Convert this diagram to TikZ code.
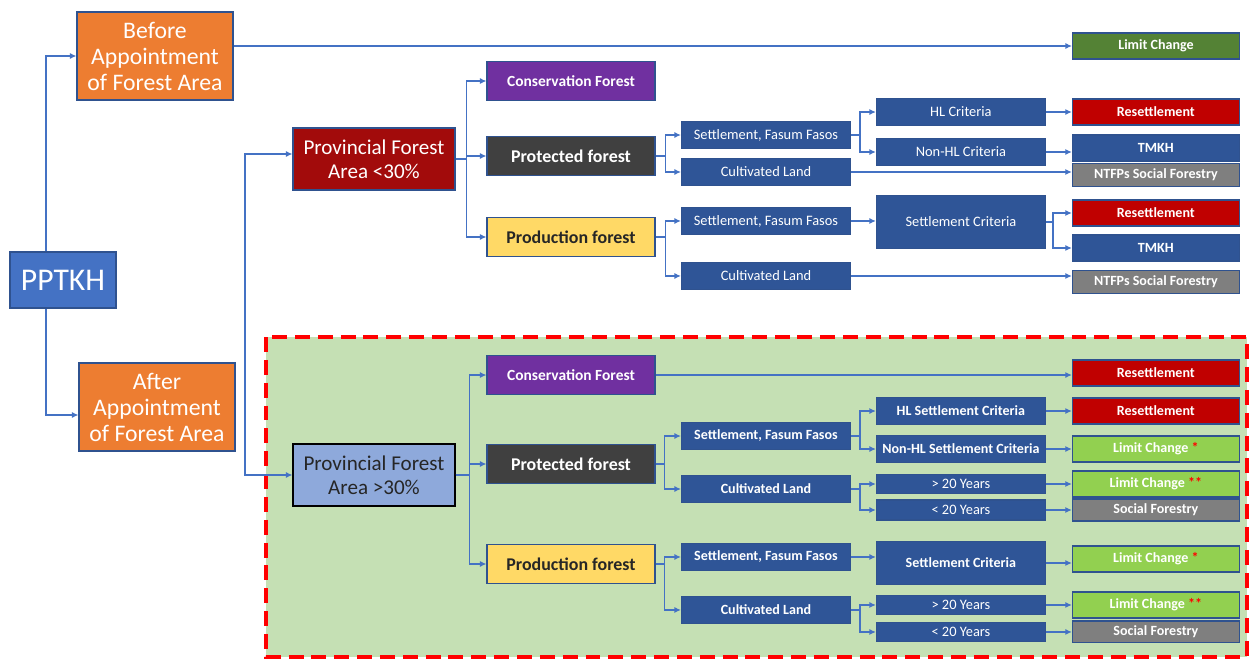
\documentclass[tikz,border=0pt]{standalone}
\usepackage{fontspec}
\setmainfont{Carlito}
\usepackage{tikz}
\usetikzlibrary{arrows.meta}
\usetikzlibrary{positioning}
\definecolor{cOrange}{HTML}{ED7D31}
\definecolor{cRoot}{HTML}{4472C4}
\definecolor{cEdge}{HTML}{2F528F}
\definecolor{cLine}{HTML}{4472C4}
\definecolor{cProvA}{HTML}{A20B0B}
\definecolor{cProvB}{HTML}{8EA9DB}
\definecolor{cPurple}{HTML}{7030A0}
\definecolor{cDark}{HTML}{404040}
\definecolor{cYellow}{HTML}{FFD966}
\definecolor{cNavy}{HTML}{2F5597}
\definecolor{cRed}{HTML}{C00000}
\definecolor{cGray}{HTML}{7F7F7F}
\definecolor{cGreen}{HTML}{548235}
\definecolor{cLime}{HTML}{92D050}
\definecolor{cBack}{HTML}{C5E0B4}
\definecolor{cText}{HTML}{262626}

\begin{document}
\begin{tikzpicture}[x = 0.02cm, y = -0.02cm, on grid, box/.style = {draw = cEdge, line width = 0.6pt, align = center, inner sep = 0pt, text = white}, stagebox/.style = {box, fill = cOrange, minimum width = 3.12cm, minimum height = 1.76cm, font = \fontsize{13.5}{14.8}\selectfont}, provbox/.style = {box, minimum width = 3.24cm, minimum height = 1.24cm, font = \fontsize{12}{13.6}\selectfont}, kindbox/.style = {box, minimum width = 3.36cm, minimum height = 0.78cm, font = \bfseries\fontsize{10.2}{12}\selectfont}, consbox/.style = {kindbox, fill = cPurple, font = \bfseries\fontsize{8.8}{10}\selectfont}, subbox/.style = {box, fill = cNavy, minimum width = 3.38cm, minimum height = 0.54cm, font = \fontsize{8.2}{9.5}\selectfont}, subbold/.style = {subbox, font = \bfseries\fontsize{8}{9.5}\selectfont}, leaf/.style = {box, minimum width = 3.34cm, minimum height = 0.52cm, font = \bfseries\fontsize{8}{9.5}\selectfont}, link/.style = {draw = cLine, line width = 0.7pt, -{Latex[length = 1.3mm, width = 1.2mm]}}]
	\useasboundingbox (0,0) rectangle (1249,660);
	\draw[fill = cBack, draw = red, line width = 1.8pt, dash pattern = on 8.5pt off 4.5pt] (266,337) rectangle (1247,657);
	\node[box, fill = cRoot, minimum width = 2.12cm, minimum height = 1.12cm, font = \fontsize{18}{20}\selectfont] (pptkh) at (63,280) {PPTKH};
	\node[stagebox] (before) at (155,56) {Before\\Appointment\\of Forest Area};
	\node[stagebox] (after) at (157,407) {After\\Appointment\\of Forest Area};
	\node[leaf, fill = cGreen] (limit0) at (1156,46) {Limit Change};
	\node[provbox, fill = cProvA] (provA) at (374,159) {Provincial Forest\\Area <30\%};
	\node[provbox, fill = cProvB, draw = black, text = cText] (provB) at (374,475) {Provincial Forest\\Area >30\%};
	\coordinate (fork) at (245,300);

	\node[kindbox, fill = cDark] (protA) at (571,156) {Protected forest};
	\node[consbox] (consA) [above = 1.5cm of protA] {Conservation Forest};
	\node[kindbox, fill = cYellow, text = cText] (prodA) [below = 1.62cm of protA] {Production forest};
	\node[subbox] (sffA) [right = 3.9cm of protA, yshift = 0.42cm] {Settlement, Fasum Fasos};
	\node[subbox] (culA) [right = 3.9cm of protA, yshift = -0.32cm] {Cultivated Land};
	\node[subbox] (hlA) [right = 3.9cm of sffA, yshift = 0.46cm] {HL Criteria};
	\node[subbox] (nhlA) [right = 3.9cm of sffA, yshift = -0.34cm] {Non-HL Criteria};
	\node[leaf, fill = cRed] (resA) [right = 3.9cm of hlA] {Resettlement};
	\node[leaf, fill = cNavy] (tmkhA) [right = 3.9cm of nhlA, yshift = 0.08cm] {TMKH};
	\node[leaf, fill = cGray, minimum height = 0.46cm] (ntfpA) [right = 7.8cm of culA, yshift = -0.06cm] {NTFPs Social Forestry};
	\node[subbox] (sffB) [right = 3.9cm of prodA, yshift = 0.32cm] {Settlement, Fasum Fasos};
	\node[subbox] (culB) [right = 3.9cm of prodA, yshift = -0.78cm] {Cultivated Land};
	\node[subbox, minimum height = 1.06cm] (scA) [right = 3.9cm of sffB, yshift = -0.02cm] {Settlement Criteria};
	\node[leaf, fill = cRed] (resB) [right = 3.9cm of scA, yshift = 0.18cm] {Resettlement};
	\node[leaf, fill = cNavy] (tmkhB) [right = 3.9cm of scA, yshift = -0.52cm] {TMKH};
	\node[leaf, fill = cGray, minimum height = 0.46cm] (ntfpB) [right = 7.8cm of culB, yshift = -0.12cm] {NTFPs Social Forestry};

	\node[kindbox, fill = cDark] (protB) at (571,464) {Protected forest};
	\node[consbox] (consB) [above = 1.78cm of protB] {Conservation Forest};
	\node[kindbox, fill = cYellow, text = cText] (prodB) [below = 2cm of protB] {Production forest};
	\node[leaf, fill = cRed] (resC) [right = 11.7cm of consB, yshift = 0.04cm] {Resettlement};
	\node[subbold] (sffC) [right = 3.9cm of protB, yshift = 0.56cm] {Settlement, Fasum Fasos};
	\node[subbold] (culC) [right = 3.9cm of protB, yshift = -0.5cm] {Cultivated Land};
	\node[subbold] (hlB) [right = 3.9cm of sffC, yshift = 0.5cm] {HL Settlement Criteria};
	\node[subbold] (nhlB) [right = 3.9cm of sffC, yshift = -0.26cm] {Non-HL Settlement Criteria};
	\node[leaf, fill = cRed] (resD) [right = 3.9cm of hlB] {Resettlement};
	\node[leaf, fill = cLime] (limA) [right = 3.9cm of nhlB] {Limit Change \textcolor{red}{*}};
	\node[subbox, minimum height = 0.38cm] (gtA) [right = 3.9cm of culC, yshift = 0.1cm] {> 20 Years};
	\node[subbox, minimum height = 0.4cm] (ltA) [right = 3.9cm of culC, yshift = -0.42cm] {< 20 Years};
	\node[leaf, fill = cLime] (limB) [right = 3.9cm of gtA] {Limit Change \textcolor{red}{**}};
	\node[leaf, fill = cGray, minimum height = 0.44cm] (sfA) [right = 3.9cm of ltA] {Social Forestry};
	\node[subbold] (sffD) [right = 3.9cm of prodB, yshift = 0.14cm] {Settlement, Fasum Fasos};
	\node[subbold] (culD) [right = 3.9cm of prodB, yshift = -0.92cm] {Cultivated Land};
	\node[subbold, minimum height = 0.86cm] (scB) [right = 3.9cm of sffD, yshift = -0.12cm] {Settlement Criteria};
	\node[leaf, fill = cLime] (limC) [right = 3.9cm of scB, yshift = 0.08cm] {Limit Change \textcolor{red}{*}};
	\node[subbox, minimum height = 0.38cm] (gtB) [right = 3.9cm of culD, yshift = 0.1cm] {> 20 Years};
	\node[subbox, minimum height = 0.38cm] (ltB) [right = 3.9cm of culD, yshift = -0.44cm] {< 20 Years};
	\node[leaf, fill = cLime] (limD) [right = 3.9cm of gtB] {Limit Change \textcolor{red}{**}};
	\node[leaf, fill = cGray, minimum height = 0.44cm] (sfB) [right = 3.9cm of ltB] {Social Forestry};

	\draw[link] ([xshift = -0.34cm]pptkh.north) |- (before);
	\draw[link] ([xshift = -0.34cm]pptkh.south) |- ([yshift = -0.16cm]after.west);
	\draw[link] (before.east |- limit0) -- (limit0);
	\draw[link] (fork) |- ([yshift = 0.1cm]provA.west);
	\draw[link] (fork) |- (provB);
	\draw[link] (provA.east) -- ++(11,0) |- (consA);
	\draw[link] (provA.east) -- ++(11,0) |- (protA);
	\draw[link] (provA.east) -- ++(11,0) |- (prodA);
	\draw[link] (protA.east) -- ++(10,0) |- (sffA);
	\draw[link] (protA.east) -- ++(10,0) |- (culA);
	\draw[link] (sffA.east) -- ++(9,0) |- (hlA);
	\draw[link] (sffA.east) -- ++(9,0) |- (nhlA);
	\draw[link] (hlA) -- (resA);
	\draw[link] (nhlA.east) -- (nhlA.east -| tmkhA.west);
	\draw[link] (culA.east) -- (culA.east -| ntfpA.west);
	\draw[link] (prodA.east) -- ++(10,0) |- (sffB);
	\draw[link] (prodA.east) -- ++(10,0) |- (culB);
	\draw[link] (sffB.east) -- (sffB.east -| scA.west);
	\draw[link] (scA.east) -- ++(7,0) |- (resB);
	\draw[link] (scA.east) -- ++(7,0) |- (tmkhB);
	\draw[link] (culB.east) -- (culB.east -| ntfpB.west);
	\draw[link] (provB.east) -- ++(14,0) |- (consB);
	\draw[link] (provB.east) -- ++(14,0) |- (protB);
	\draw[link] (provB.east) -- ++(14,0) |- (prodB);
	\draw[link] (consB.east) -- (consB.east -| resC.west);
	\draw[link] (protB.east) -- ++(9,0) |- (sffC);
	\draw[link] (protB.east) -- ++(9,0) |- (culC);
	\draw[link] (sffC.east) -- ++(9,0) |- (hlB);
	\draw[link] (sffC.east) -- ++(9,0) |- (nhlB);
	\draw[link] (hlB) -- (resD);
	\draw[link] (nhlB) -- (limA);
	\draw[link] (culC.east) -- ++(9,0) |- (gtA);
	\draw[link] (culC.east) -- ++(9,0) |- (ltA);
	\draw[link] (gtA) -- (limB);
	\draw[link] (ltA) -- (sfA);
	\draw[link] (prodB.east) -- ++(9,0) |- (sffD);
	\draw[link] (prodB.east) -- ++(9,0) |- (culD);
	\draw[link] (sffD.east) -- (sffD.east -| scB.west);
	\draw[link] (scB.east) -- (scB.east -| limC.west);
	\draw[link] (culD.east) -- ++(9,0) |- (gtB);
	\draw[link] (culD.east) -- ++(9,0) |- (ltB);
	\draw[link] (gtB) -- (limD);
	\draw[link] (ltB) -- (sfB);
\end{tikzpicture}
\end{document}
